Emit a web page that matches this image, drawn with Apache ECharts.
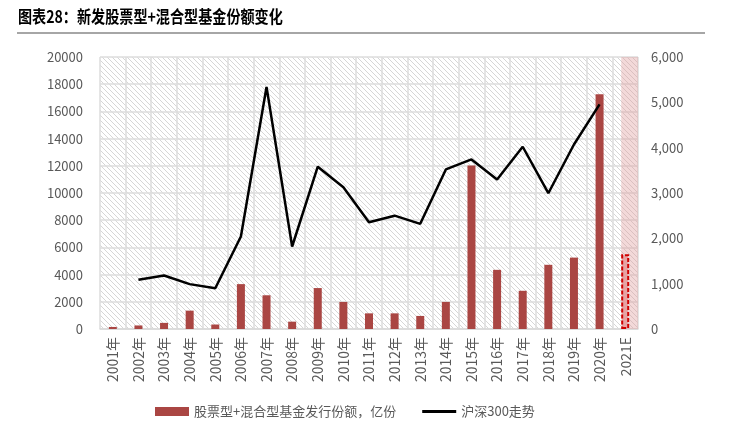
<!DOCTYPE html>
<html>
<head>
<meta charset="utf-8">
<script src="https://cdn.jsdelivr.net/npm/echarts@6/dist/echarts.min.js"></script>
<style>
  html, body { margin: 0; padding: 0; background: #fff; }
  #chart { width: 740px; height: 441px; }
</style>
</head>
<body>
<div id="chart"></div>
<script>
var years = ['2001年', '2002年', '2003年', '2004年', '2005年', '2006年', '2007年', '2008年', '2009年', '2010年',
  '2011年', '2012年', '2013年', '2014年', '2015年', '2016年', '2017年', '2018年', '2019年', '2020年', '2021E'];
// 股票型+混合型基金发行份额（亿份）
var fundShares = [150, 260, 450, 1350, 330, 3300, 2480, 540, 3010, 1990,
  1150, 1150, 960, 1990, 12030, 4350, 2810, 4720, 5250, 17260, 5500];
// 沪深300
var hs300 = [null, 1085, 1180, 990, 900, 2040, 5340, 1820, 3580, 3125,
  2355, 2500, 2320, 3520, 3740, 3300, 4020, 2995, 4070, 4955, null];
var leftMax = 20000, rightMax = 6000;

// hatched background
function hatch() {
  var c = document.createElement('canvas');
  c.width = 5; c.height = 5;
  var g = c.getContext('2d');
  g.fillStyle = '#ffffff';
  g.fillRect(0, 0, 5, 5);
  g.strokeStyle = '#d6d6d6';
  g.lineWidth = 1;
  g.beginPath();
  g.moveTo(-1, -1); g.lineTo(6, 6);
  g.moveTo(-1, 4); g.lineTo(1, 6);
  g.moveTo(4, -1); g.lineTo(6, 1);
  g.stroke();
  return c;
}

var last = years.length - 1;
var barData = fundShares.map(function (v, i) {
  if (i !== last) return v;
  return {
    value: v,
    itemStyle: { color: '#e6a3a3', borderColor: '#d00000', borderWidth: 2, borderType: [4, 2] }
  };
});
var bandData = years.map(function (y, i) { return i === last ? leftMax : null; });

var chart = echarts.init(document.getElementById('chart'));
chart.setOption({
  animation: false,
  textStyle: { fontFamily: '"Noto Sans CJK SC", "Noto Sans", sans-serif' },
  graphic: [
    {
      type: 'text', left: 18, top: 8, scaleX: 0.83,
      style: { text: '图表28：新发股票型+混合型基金份额变化', fontSize: 17, fontWeight: 'bold', fill: '#000',
        fontFamily: '"Noto Sans CJK SC", sans-serif' }
    },
    {
      type: 'rect', shape: { x: 17, y: 32, width: 688, height: 2 },
      style: { fill: '#a6a6a6' }
    }
  ],
  grid: {
    left: 100, right: 102, top: 57, bottom: 112,
    show: true, borderWidth: 0,
    backgroundColor: { image: hatch(), repeat: 'repeat' }
  },
  legend: {
    bottom: 18, left: 150, itemGap: 26,
    textStyle: { fontSize: 13, color: '#595959' },
    data: [
      { name: '股票型+混合型基金发行份额，亿份', icon: 'rect', itemStyle: { color: '#aa4643' } },
      { name: '沪深300走势', icon: 'path://M0,0 L34,0 L34,3 L0,3 Z', itemStyle: { color: '#000' } }
    ],
    itemWidth: 34, itemHeight: 9
  },
  xAxis: {
    type: 'category', data: years,
    axisLine: { lineStyle: { color: '#d9d9d9', width: 1.5 } },
    axisTick: { show: false },
    splitLine: { show: true, lineStyle: { color: '#dcdcdc', width: 1.5 } },
    axisLabel: { rotate: 90, color: '#595959', fontSize: 14, margin: 8, interval: 0 }
  },
  yAxis: [
    {
      type: 'value', min: 0, max: leftMax, interval: 2000,
      axisLine: { show: false }, axisTick: { show: false },
      splitLine: { lineStyle: { color: '#dcdcdc', width: 1.5 } },
      axisLabel: { color: '#595959', fontSize: 13, margin: 17, formatter: function (v) { return String(v); } }
    },
    {
      type: 'value', min: 0, max: rightMax, interval: 1000,
      axisLine: { show: false }, axisTick: { show: false },
      splitLine: { show: false },
      axisLabel: {
        color: '#595959', fontSize: 13, margin: 13,
        formatter: function (v) { return v.toLocaleString('en-US'); }
      }
    }
  ],
  series: [
    {
      name: 'band', type: 'bar', data: bandData, barWidth: '100%', barGap: '-100%',
      itemStyle: { color: 'rgba(225,160,160,0.4)' }, silent: true, z: 1
    },
    {
      name: '股票型+混合型基金发行份额，亿份', type: 'bar', data: barData, barWidth: 8,
      itemStyle: { color: '#aa4643' }, z: 2
    },
    {
      name: '沪深300走势', type: 'line', yAxisIndex: 1, data: hs300,
      symbol: 'none', lineStyle: { color: '#000', width: 2.5 }, itemStyle: { color: '#000' }, z: 3
    }
  ]
});
</script>
</body>
</html>
